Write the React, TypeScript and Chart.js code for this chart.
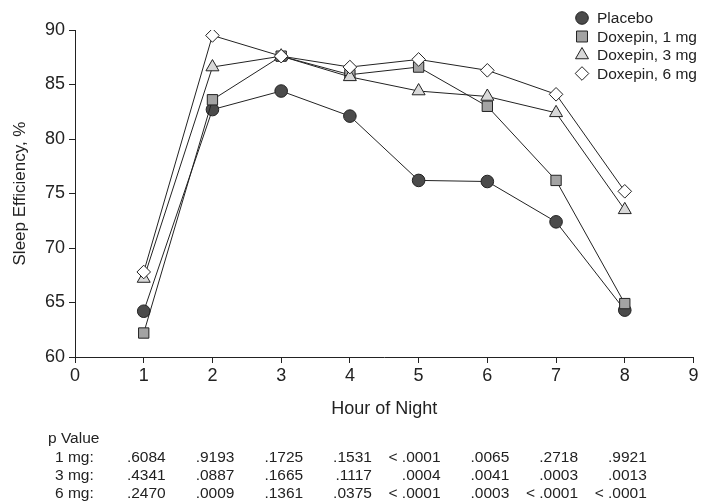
import React, { useEffect, useRef } from "react";
import { Chart, registerables } from "chart.js";

Chart.register(...registerables);

const hours = [1, 2, 3, 4, 5, 6, 7, 8];
const placebo = [64.2, 82.7, 84.4, 82.1, 76.2, 76.1, 72.4, 64.3];
const dox1 = [62.2, 83.6, 87.6, 85.9, 86.6, 83.0, 76.2, 64.9];
const dox3 = [67.2, 86.6, 87.6, 85.7, 84.4, 83.9, 82.4, 73.5];
const dox6 = [67.8, 89.5, 87.6, 86.6, 87.3, 86.3, 84.1, 75.2];

const seriesNames = ["Placebo", "Doxepin, 1 mg", "Doxepin, 3 mg", "Doxepin, 6 mg"];
const pRowLabels = ["1 mg:", "3 mg:", "6 mg:"];
const p1 = [".6084", ".9193", ".1725", ".1531", "< .0001", ".0065", ".2718", ".9921"];
const p3 = [".4341", ".0887", ".1665", ".1117", ".0004", ".0041", ".0003", ".0013"];
const p6 = [".2470", ".0009", ".1361", ".0375", "< .0001", ".0003", "< .0001", "< .0001"];

const FONT = "'Liberation Sans', Arial, sans-serif";
const INK = "#222";

type Sty = { style: string; fill: string; r: number };
const styles: Sty[] = [
  { style: "circle", fill: "#4b4b4b", r: 6.3 },
  { style: "rect", fill: "#a3a3a3", r: 7.3 },
  { style: "triangle", fill: "#d9d9d9", r: 7.5 },
  { style: "rectRot", fill: "#ffffff", r: 6.8 },
];

function drawMarker(ctx: CanvasRenderingContext2D, s: Sty, x: number, y: number) {
  ctx.save();
  ctx.fillStyle = s.fill;
  ctx.strokeStyle = INK;
  ctx.lineWidth = 1;
  ctx.beginPath();
  if (s.style === "circle") {
    ctx.arc(x, y, s.r, 0, Math.PI * 2);
  } else if (s.style === "rect") {
    const h = s.r * 0.75;
    ctx.rect(x - h, y - h, h * 2, h * 2);
  } else if (s.style === "triangle") {
    const r = s.r;
    ctx.moveTo(x, y - r);
    ctx.lineTo(x + r * 0.866, y + r * 0.5);
    ctx.lineTo(x - r * 0.866, y + r * 0.5);
    ctx.closePath();
  } else {
    const r = s.r;
    ctx.moveTo(x, y - r);
    ctx.lineTo(x + r, y);
    ctx.lineTo(x, y + r);
    ctx.lineTo(x - r, y);
    ctx.closePath();
  }
  ctx.fill();
  ctx.stroke();
  ctx.restore();
}

const extrasPlugin = {
  id: "extras",
  afterDraw(chart: any) {
    const ctx: CanvasRenderingContext2D = chart.ctx;
    const area = chart.chartArea;
    const xs = chart.scales.x;
    ctx.save();
    ctx.fillStyle = INK;
    // y title
    ctx.font = `17px ${FONT}`;
    ctx.textAlign = "center";
    ctx.textBaseline = "middle";
    ctx.save();
    ctx.translate(20, (area.top + area.bottom) / 2);
    ctx.rotate(-Math.PI / 2);
    ctx.fillText("Sleep Efficiency, %", 0, 0);
    ctx.restore();
    // x title
    ctx.font = `18px ${FONT}`;
    ctx.fillText("Hour of Night", (area.left + area.right) / 2, 409);

    // legend
    ctx.font = `15.5px ${FONT}`;
    ctx.textAlign = "left";
    seriesNames.forEach((n, i) => {
      const y = 18 + i * 18.5;
      drawMarker(ctx, styles[i], 582, y);
      ctx.fillStyle = INK;
      ctx.fillText(n, 597, y + 1);
    });

    // p value table
    ctx.font = `15.5px ${FONT}`;
    ctx.textAlign = "left";
    ctx.fillText("p Value", 48, 439);
    const rows = [p1, p3, p6];
    rows.forEach((row, ri) => {
      const y = 457.5 + ri * 18;
      ctx.textAlign = "left";
      ctx.fillText(pRowLabels[ri], 55, y);
      ctx.textAlign = "right";
      row.forEach((v, ci) => ctx.fillText(v, xs.getPixelForValue(hours[ci]) + 22, y));
    });
    ctx.restore();
  },
};

export default function App() {
  const ref = useRef<HTMLCanvasElement>(null);
  useEffect(() => {
    const datasets = [placebo, dox1, dox3, dox6].map((vals, i) => ({
      label: seriesNames[i],
      data: hours.map((h, k) => ({ x: h, y: vals[k] })),
      borderColor: INK,
      borderWidth: 1,
      pointStyle: styles[i].style,
      pointRadius: styles[i].r,
      pointBackgroundColor: styles[i].fill,
      pointBorderColor: INK,
      pointBorderWidth: 1,
      order: 3 - i,
    }));
    const chart = new Chart(ref.current as HTMLCanvasElement, {
      type: "line",
      data: { datasets },
      plugins: [extrasPlugin],
      options: {
        responsive: false,
        animation: false,
        layout: { padding: { left: 0, top: 30, right: 6, bottom: 0 } },
        plugins: { legend: { display: false }, tooltip: { enabled: false } },
        scales: {
          x: {
            type: "linear",
            min: 0,
            max: 9,
            ticks: { stepSize: 1, color: INK, font: { family: FONT, size: 18 }, padding: 2 },
            grid: { drawOnChartArea: false, drawTicks: true, tickLength: 6, color: INK },
            border: { display: true, color: INK, width: 1 },
            afterFit: (s: any) => { s.height = 147; },
          },
          y: {
            type: "linear",
            min: 60,
            max: 90,
            ticks: { stepSize: 5, color: INK, font: { family: FONT, size: 18 }, padding: 4 },
            grid: { drawOnChartArea: false, drawTicks: true, tickLength: 6, color: INK },
            border: { display: true, color: INK, width: 1 },
            afterFit: (s: any) => { s.width = 75; },
          },
        },
      },
    } as any);
    return () => chart.destroy();
  }, []);
  return (
    <div style={{ position: "absolute", left: 0, top: 0, width: 702, height: 504, background: "#fff" }}>
      <canvas ref={ref} width={702} height={504} style={{ width: 702, height: 504 }} />
    </div>
  );
}
